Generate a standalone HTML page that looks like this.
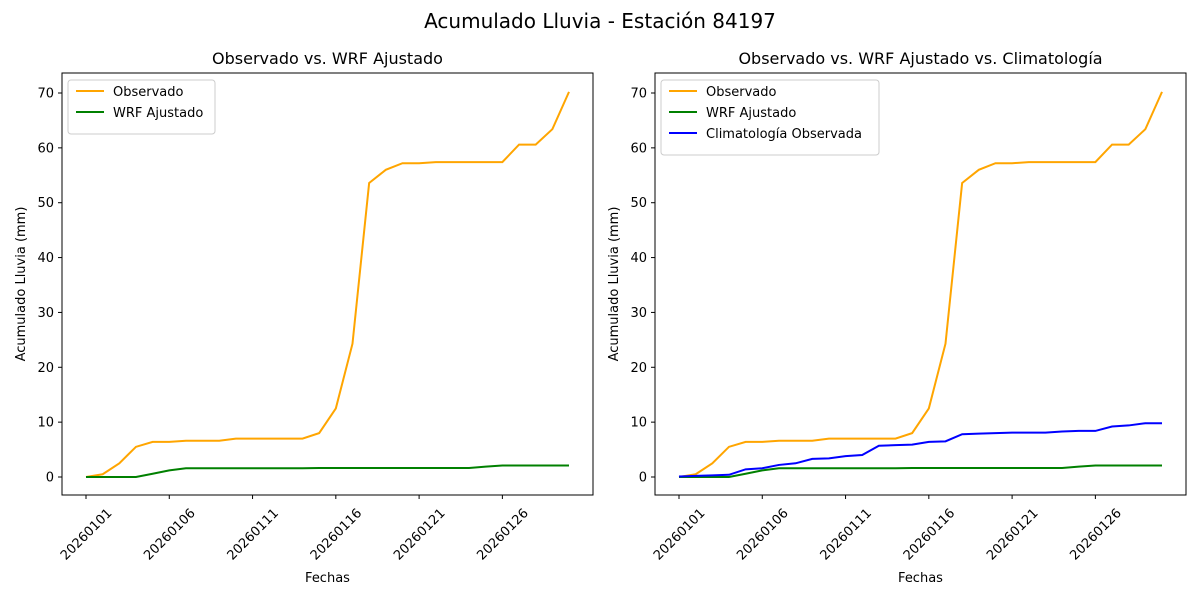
<!DOCTYPE html>
<html><head><meta charset="utf-8"><style>
body{margin:0;background:#fff;font-family:"Liberation Sans","DejaVu Sans",sans-serif}
svg text{font-family:"DejaVu Sans","Liberation Sans",sans-serif}
</style></head><body>
<svg id="fig" width="1200" height="600" viewBox="0 0 1200 600" xmlns="http://www.w3.org/2000/svg">
<rect width="1200" height="600" fill="#fff"/>
<text x="600" y="28" text-anchor="middle" font-size="20">Acumulado Lluvia - Estación 84197</text>
</svg>
<script>
const days = Array.from({length:30},(_,i)=>i+1);
const tickLabels = ["20260101","20260106","20260111","20260116","20260121","20260126"];
const observado = [0,0.5,2.5,5.5,6.4,6.4,6.6,6.6,6.6,7.0,7.0,7.0,7.0,7.0,8.0,12.5,24.3,53.6,56.0,57.2,57.2,57.4,57.4,57.4,57.4,57.4,60.6,60.6,63.4,70.2];
const wrf = [0,0,0,0,0.6,1.2,1.6,1.6,1.6,1.6,1.6,1.6,1.6,1.6,1.65,1.65,1.65,1.65,1.65,1.65,1.65,1.65,1.65,1.65,1.9,2.1,2.1,2.1,2.1,2.1];
const clim = [0.1,0.2,0.3,0.4,1.4,1.6,2.2,2.5,3.3,3.4,3.8,4.0,5.7,5.8,5.9,6.4,6.5,7.8,7.9,8.0,8.1,8.1,8.1,8.3,8.4,8.4,9.2,9.4,9.8,9.8];
const yTicks = [0,10,20,30,40,50,60,70];

const NS="http://www.w3.org/2000/svg";
const svg=document.getElementById('fig');
function el(t,a,p){const e=document.createElementNS(NS,t);for(const k in a)e.setAttribute(k,a[k]);(p||svg).appendChild(e);return e;}

function panel(x0,x1,title,series,legW,name){
  const yTop=73,yBot=495;
  const g=el('g',{});
  
  
  const xs=d=>x0+24+(d-1)*(x1-x0-48)/29;
  const ys=v=>477-v*(477-93)/70;
  const t=el('text',{x:(x0+x1)/2,y:64,'text-anchor':'middle','font-size':16},g);t.textContent=title;
  
  series.forEach(s=>{
    const p=el('polyline',{points:s.data.map((v,i)=>xs(days[i])+','+ys(v)).join(' '),fill:'none',stroke:s.color,'stroke-width':2},g);
    
  });
  el('rect',{x:x0,y:yTop,width:x1-x0,height:yBot-yTop,fill:'none',stroke:'#000','stroke-width':1},g);
  yTicks.forEach(v=>{
    el('line',{x1:x0-4,x2:x0,y1:ys(v),y2:ys(v),stroke:'#000'},g);
    const tx=el('text',{x:x0-8,y:ys(v)+4.5,'text-anchor':'end','font-size':13},g);tx.textContent=v;
    
  });
  tickLabels.forEach((lb,i)=>{
    const x=xs(1+i*5);
    el('line',{x1:x,x2:x,y1:yBot,y2:yBot+4,stroke:'#000'},g);
    const cy=yBot+39;
    const tx=el('text',{x:x,y:cy+4.5,'text-anchor':'middle','font-size':13,transform:`rotate(-45 ${x} ${cy})`},g);tx.textContent=lb;
    
  });
  const xl=el('text',{x:(x0+x1)/2,y:582,'text-anchor':'middle','font-size':13},g);xl.textContent='Fechas';
  
  const yl=el('text',{x:x0-37,y:284,'text-anchor':'middle','font-size':13,transform:`rotate(-90 ${x0-37} 284)`},g);yl.textContent='Acumulado Lluvia (mm)';
  
  const lg=el('g',{},g);
  
  el('rect',{x:x0+6,y:80,width:legW,height:12+series.length*21,rx:3,fill:'#fff',stroke:'#ccc'},lg);
  series.forEach((s,i)=>{
    const y=91+i*21;
    el('line',{x1:x0+14,x2:x0+42,y1:y,y2:y,stroke:s.color,'stroke-width':2},lg);
    const tx=el('text',{x:x0+51,y:y+5,'font-size':13},lg);tx.textContent=s.label;
    
  });
}
const sObs={key:'observado',label:'Observado',color:'orange',data:observado};
const sWrf={key:'wrf',label:'WRF Ajustado',color:'green',data:wrf};
const sClim={key:'climatologia',label:'Climatología Observada',color:'blue',data:clim};
panel(62,593,'Observado vs. WRF Ajustado',[sObs,sWrf],147,'left-panel');
panel(655,1186,'Observado vs. WRF Ajustado vs. Climatología',[sObs,sWrf,sClim],218,'right-panel');
</script>
</body></html>
